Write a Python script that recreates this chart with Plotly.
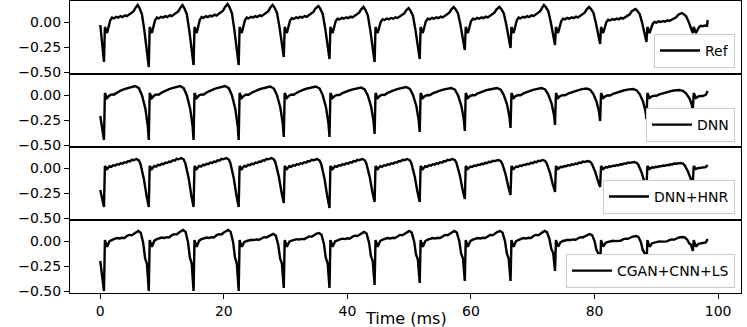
import plotly.graph_objects as go
from plotly.subplots import make_subplots

# glottal closure instants (ms), shared by all four signals
GCI = [0.6, 7.85, 15.1, 22.4, 29.7, 37.1, 44.4, 51.7, 59.0, 66.4, 73.6, 80.9, 88.4, 95.9]
END_MS = 98.3

NAMES = ["Ref", "DNN", "DNN+HNR", "CGAN+CNN+LS"]

# negative peak at each GCI
REF_TROUGH = [-0.40, -0.45, -0.43, -0.43, -0.35, -0.37, -0.40, -0.37, -0.28, -0.26, -0.23, -0.22, -0.20, -0.11]
DNN_TROUGH = [-0.45, -0.45, -0.45, -0.45, -0.42, -0.42, -0.39, -0.37, -0.36, -0.33, -0.30, -0.26, -0.24, -0.15]
HNR_TROUGH = [-0.39, -0.39, -0.39, -0.39, -0.35, -0.40, -0.34, -0.34, -0.31, -0.27, -0.24, -0.19, -0.19, -0.15]
CGAN_TROUGH = [-0.50, -0.50, -0.50, -0.50, -0.47, -0.47, -0.44, -0.42, -0.40, -0.40, -0.30, -0.28, -0.26, -0.10]

# maximum reached before the next GCI
REF_PEAK = [0.17, 0.17, 0.18, 0.17, 0.16, 0.15, 0.14, 0.15, 0.15, 0.17, 0.15, 0.13, 0.09]
DNN_PEAK = [0.09, 0.09, 0.09, 0.085, 0.085, 0.075, 0.08, 0.07, 0.07, 0.07, 0.065, 0.06, 0.05]
HNR_PEAK = [0.09, 0.10, 0.10, 0.10, 0.09, 0.09, 0.09, 0.09, 0.08, 0.08, 0.07, 0.06, 0.05]
CGAN_PEAK = [0.10, 0.11, 0.11, 0.07, 0.08, 0.09, 0.10, 0.10, 0.10, 0.10, 0.07, 0.05, 0.04]

# first / last sample, value right after closure, small dip after it
REF_EDGE = dict(start=-0.03, end=0.02, post=-0.05, dip=-0.11)
DNN_EDGE = dict(start=-0.21, end=0.04, post=0.02, dip=-0.03)
HNR_EDGE = dict(start=-0.22, end=0.03, post=0.02, dip=-0.01)
CGAN_EDGE = dict(start=-0.20, end=0.02, post=0.01, dip=-0.057)

# shape of the open phase: (ms after GCI, fraction between dip and peak)
REF_RISE = [(1.0, 0.45), (1.3, 0.55), (1.6, 0.52), (2.0, 0.58), (2.3, 0.55), (2.7, 0.60), (3.0, 0.57),
            (3.4, 0.63), (3.7, 0.60), (4.1, 0.66), (4.4, 0.70), (4.8, 0.78), (5.1, 0.90)]
DNN_RISE = [(0.9, 0.22), (1.3, 0.30), (1.6, 0.28), (2.1, 0.46), (2.7, 0.62), (3.3, 0.74), (3.8, 0.83), (4.4, 0.93), (4.8, 0.98)]
HNR_RISE = [(0.9, 0.28), (1.2, 0.22), (1.5, 0.38), (1.8, 0.34), (2.1, 0.48), (2.4, 0.44), (2.7, 0.58), (3.0, 0.54),
            (3.3, 0.68), (3.6, 0.64), (3.9, 0.80), (4.2, 0.76), (4.5, 0.92), (4.8, 0.88)]
CGAN_RISE = [(0.9, 0.36), (1.3, 0.45), (1.7, 0.50), (2.1, 0.55), (2.5, 0.52), (2.9, 0.57), (3.3, 0.55),
             (3.7, 0.68), (4.1, 0.75), (4.5, 0.73), (4.9, 0.85), (5.3, 0.95)]

# return phase: (ms before next GCI, fraction of the drop from peak to trough)
REF_FALL = [(1.5, 0.05), (1.1, 0.15), (0.7, 0.42), (0.3, 0.78)]
DNN_FALL = [(1.6, 0.04), (1.1, 0.17), (0.55, 0.42), (0.16, 0.74)]
HNR_FALL = [(1.6, 0.03), (1.35, 0.10), (0.8, 0.41), (0.38, 0.75)]
CGAN_FALL = [(1.3, 0.03), (0.9, 0.20), (0.6, 0.45), (0.3, 0.55)]

# where the peak sits before the next GCI (ms)
PEAK_OFF = [1.8, 2.2, 2.0, 1.7]


def build_wave(trough, peak, edge, rise, fall, peak_off):
    t, y = [0.0], [edge["start"]]
    n = len(GCI)
    for i, g in enumerate(GCI):
        last = i == n - 1
        nxt = END_MS if last else GCI[i + 1]
        top = edge["end"] if last else peak[i]
        dip = edge["dip"]
        t += [g, g + 0.15, g + 0.5]
        y += [trough[i], edge["post"], dip]
        stop = nxt if last else nxt - peak_off
        for off, frac in rise:
            if g + off < stop:
                t.append(g + off)
                y.append(dip + frac * (top - dip))
        if last:
            t.append(END_MS)
            y.append(top)
        else:
            t.append(nxt - peak_off)
            y.append(top)
            drop = top - trough[i + 1]
            for off, frac in fall:
                t.append(nxt - off)
                y.append(top - frac * drop)
    return t, y


waves = [
    build_wave(REF_TROUGH, REF_PEAK, REF_EDGE, REF_RISE, REF_FALL, PEAK_OFF[0]),
    build_wave(DNN_TROUGH, DNN_PEAK, DNN_EDGE, DNN_RISE, DNN_FALL, PEAK_OFF[1]),
    build_wave(HNR_TROUGH, HNR_PEAK, HNR_EDGE, HNR_RISE, HNR_FALL, PEAK_OFF[2]),
    build_wave(CGAN_TROUGH, CGAN_PEAK, CGAN_EDGE, CGAN_RISE, CGAN_FALL, PEAK_OFF[3]),
]

font = dict(family="DejaVu Sans", size=14, color="black")

fig = make_subplots(rows=4, cols=1, shared_xaxes=True, vertical_spacing=0)

legend_y = [0.771, 0.517, 0.271, 0.017]
for k, (name, (t, y)) in enumerate(zip(NAMES, waves)):
    lg = "legend" if k == 0 else f"legend{k + 1}"
    fig.add_trace(go.Scatter(
        x=t, y=y, mode="lines", name=name,
        line=dict(color="black", width=2.4),
        legend=lg,
    ), row=k + 1, col=1)
    fig.update_layout({lg: dict(
        x=0.991, xanchor="right", y=legend_y[k], yanchor="bottom",
        bgcolor="white", bordercolor="#cccccc", borderwidth=1,
        font=dict(family="DejaVu Sans", size=14, color="black"), itemwidth=40,
    )})

for k in range(4):
    fig.update_yaxes(
        range=[-0.52, 0.21], tickvals=[-0.5, -0.25, 0.0], tickformat=".2f",
        showgrid=False, zeroline=False, showline=True, linecolor="black", linewidth=1,
        mirror=True, ticks="outside", ticklen=5, tickcolor="black", tickfont=font,
        automargin=False, row=k + 1, col=1,
    )
    fig.update_xaxes(
        range=[-4.9, 103.7], tickvals=[0, 20, 40, 60, 80, 100],
        showgrid=False, zeroline=False, showline=True, linecolor="black", linewidth=1,
        mirror=True, ticks="outside" if k == 3 else "", ticklen=5, tickcolor="black",
        tickfont=font, automargin=False, row=k + 1, col=1,
    )

fig.add_annotation(
    text="Time (ms)", xref="paper", yref="paper", x=0.5, y=-0.088,
    xanchor="center", yanchor="middle", showarrow=False,
    font=dict(family="DejaVu Sans", size=16, color="black"),
)

fig.update_layout(
    width=747, height=327,
    margin=dict(l=70, r=6, t=1, b=34),
    plot_bgcolor="white", paper_bgcolor="white",
    showlegend=True,
)

# drop the browser's default page margin so the figure sits at the window corner
fig.write_html("out.html", config={"displayModeBar": False},
               post_script="document.body.style.margin='0';")
